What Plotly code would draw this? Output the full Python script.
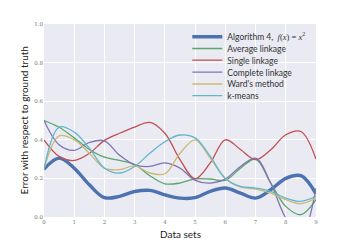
import plotly.graph_objects as go

x_vals = [0, 0.5, 1, 1.5, 2, 2.5, 3, 3.5, 4, 4.5, 5, 5.5, 6, 6.5, 7, 7.5, 8, 8.5, 9]

algo4 = [0.248, 0.305, 0.253, 0.167, 0.100, 0.107, 0.132, 0.138, 0.115, 0.098, 0.100, 0.133, 0.150, 0.124, 0.098, 0.141, 0.200, 0.214, 0.120]
average = [0.50, 0.465, 0.41, 0.35, 0.31, 0.293, 0.272, 0.214, 0.172, 0.176, 0.198, 0.197, 0.190, 0.253, 0.300, 0.176, 0.055, 0.012, 0.090]
single = [0.40, 0.314, 0.293, 0.33, 0.397, 0.434, 0.466, 0.49, 0.434, 0.297, 0.198, 0.28, 0.40, 0.35, 0.297, 0.348, 0.426, 0.443, 0.300]
complete = [0.50, 0.374, 0.345, 0.386, 0.395, 0.32, 0.27, 0.262, 0.28, 0.253, 0.19, 0.176, 0.197, 0.262, 0.305, 0.176, -0.005, -0.10, 0.150]
ward = [0.248, 0.42, 0.40, 0.33, 0.253, 0.245, 0.265, 0.228, 0.224, 0.33, 0.40, 0.305, 0.200, 0.155, 0.145, 0.124, 0.090, 0.069, 0.098]
kmeans = [0.248, 0.466, 0.44, 0.357, 0.253, 0.228, 0.262, 0.33, 0.39, 0.425, 0.41, 0.314, 0.200, 0.159, 0.150, 0.133, 0.098, 0.081, 0.107]

math = '<span style="font-family:Liberation Serif">'
series = [
    ("Algorithm 4,  " + math + "<i>f</i>(<i>x</i>) = <i>x</i><sup>2</sup></span>", algo4, "#4C72B0", 3.4),
    ("Average linkage", average, "#55A868", 1.3),
    ("Single linkage", single, "#C44E52", 1.3),
    ("Complete linkage", complete, "#8172B2", 1.3),
    ("Ward's method", ward, "#CCB974", 1.3),
    ("k-means", kmeans, "#64B5CD", 1.3),
]

x_ticks = list(range(10))
y_ticks = [0.0, 0.2, 0.4, 0.6, 0.8, 1.0]
x_title = "Data sets"
y_title = "Error with respect to ground truth"

W, H = 352, 242
ML, MR, MT, MB = 44, 36, 24, 25
legend_names = ["legend", "legend2", "legend3", "legend4", "legend5", "legend6"]
legend_y_px = [36.7, 48.5, 60.2, 72.2, 84.0, 95.7]

fig = go.Figure()
for i, (name, vals, color, w) in enumerate(series):
    fig.add_trace(go.Scatter(x=x_vals, y=vals, name=name, mode="lines",
                             legend=legend_names[i],
                             line=dict(color=color, width=w, shape="spline", smoothing=1.0)))

tick_font = dict(family="DejaVu Serif", size=5.5, color="#777777")
title_font = dict(family="Lato", size=10, color="#222222")
leg_font = dict(family="Lato", size=8.5, color="#333333")

layout_legends = {}
for i, ln in enumerate(legend_names):
    layout_legends[ln] = dict(
        xref="container", yref="container",
        x=(227.3 - 40) / W, y=1 - legend_y_px[i] / H,
        xanchor="left", yanchor="middle",
        bgcolor="rgba(0,0,0,0)", borderwidth=0,
        font=leg_font, itemwidth=30,
    )

fig.update_layout(
    width=W, height=H,
    margin=dict(l=ML, r=MR, t=MT, b=MB, autoexpand=False),
    paper_bgcolor="white",
    plot_bgcolor="#EAEAF2",
    showlegend=True,
    xaxis=dict(range=[0, 9], tickvals=x_ticks, ticktext=[str(t) for t in x_ticks],
               showgrid=True, gridcolor="white", gridwidth=1, zeroline=False,
               showline=False, ticks="", tickfont=tick_font, automargin=False),
    yaxis=dict(range=[0, 1], tickvals=y_ticks, ticktext=["%.1f" % t for t in y_ticks],
               showgrid=True, gridcolor="white", gridwidth=1, zeroline=False,
               showline=False, ticks="", tickfont=tick_font, automargin=False),
    annotations=[
        dict(text=x_title, xref="paper", yref="paper",
             x=0.5, y=-(234 - (H - MB)) / (H - MT - MB),
             xanchor="center", yanchor="middle", showarrow=False, font=title_font),
        dict(text=y_title, xref="paper", yref="paper", textangle=-90,
             x=-(ML - 23) / (W - ML - MR), y=0.5,
             xanchor="center", yanchor="middle", showarrow=False, font=title_font),
    ],
    **layout_legends,
)

fig.write_html("out.html", config={"displayModeBar": False},
               post_script="document.body.style.margin='0';document.body.style.padding='0';")
